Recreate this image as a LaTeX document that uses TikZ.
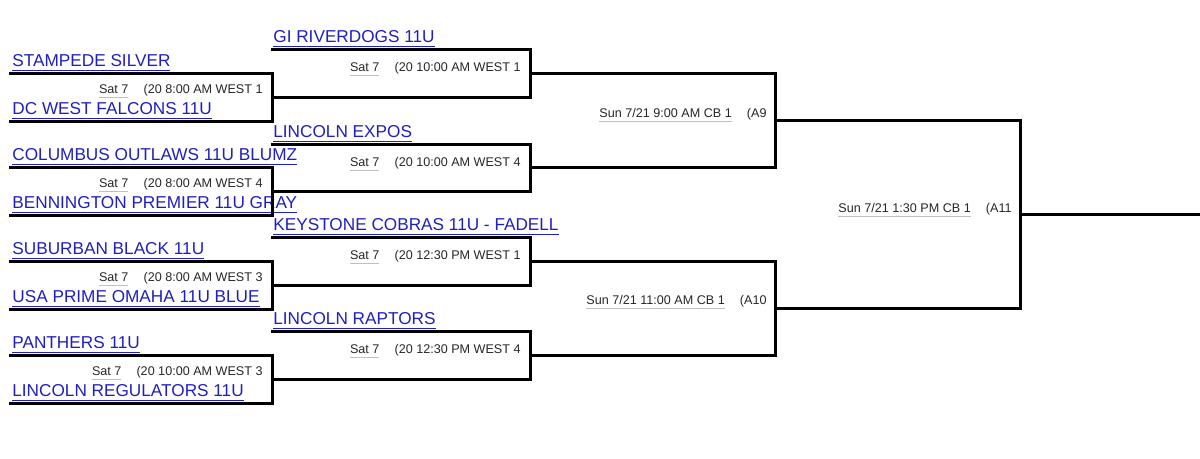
\documentclass[tikz,border=0pt]{standalone}
\usepackage{fontspec}
\setmainfont{Liberation Sans}
\definecolor{team}{HTML}{1F1FBF}
\newcommand{\gm}[2]{{\color{black!25}\underline{\color{black!85}#1}}\hspace{1.2em}{\color{black!85}(#2}}
\tikzset{
 team/.style={anchor=base west,inner sep=0pt,font=\fontsize{8.6}{9}\selectfont,text=team},
 game/.style={anchor=base east,inner sep=0pt,font=\fontsize{6.3}{7}\selectfont},
 br/.style={line width=1.5pt,line cap=rect}
}
\begin{document}
\begin{tikzpicture}[x=0.5pt,y=-0.5pt]
\useasboundingbox (0,0) rectangle (1200,459);
% round 1
\foreach \i/\t/\b/\ta/\tb/\g/\gn in {
 1/74/122/STAMPEDE SILVER/DC WEST FALCONS 11U/Sat 7/20 8:00 AM WEST 1/A1,
 2/168/216/COLUMBUS OUTLAWS 11U BLUMZ/BENNINGTON PREMIER 11U GRAY/Sat 7/20 8:00 AM WEST 4/A2,
 3/262/310/SUBURBAN BLACK 11U/USA PRIME OMAHA 11U BLUE/Sat 7/20 8:00 AM WEST 3/A3,
 4/356/404/PANTHERS 11U/LINCOLN REGULATORS 11U/Sat 7/20 10:00 AM WEST 3/A4}{
 \node[team] (ta\i) at (12,\t-7) {\underline{\ta}};
 \node[team] (tb\i) at (12,\b-7) {\underline{\tb}};
 \node[game] (g\i) at (263,\t+20) {\gm{\g}{\gn}};
 \draw[br] (10,\t) -- (272,\t) -- (272,\b) -- (10,\b);
}
% round 2
\foreach \i/\t/\b/\ta/\g/\gn in {
 5/50/98/GI RIVERDOGS 11U/Sat 7/20 10:00 AM WEST 1/A5,
 6/145/192/LINCOLN EXPOS/Sat 7/20 10:00 AM WEST 4/A6,
 7/238/286/KEYSTONE COBRAS 11U - FADELL/Sat 7/20 12:30 PM WEST 1/A7,
 8/332/380/LINCOLN RAPTORS/Sat 7/20 12:30 PM WEST 4/A8}{
 \node[team] (ta\i) at (273,\t-7) {\underline{\ta}};
 \node[game] (g\i) at (521,\t+22) {\gm{\g}{\gn}};
 \draw[br] (272,\t) -- (530,\t) -- (530,\b) -- (272,\b);
}
% round 3
\node[game] (g9) at (767,118) {\gm{Sun 7/21 9:00 AM CB 1}{A9}};
\draw[br] (530,74) -- (775,74) -- (775,168) -- (530,168);
\node[game] (g10) at (767,305) {\gm{Sun 7/21 11:00 AM CB 1}{A10}};
\draw[br] (530,262) -- (775,262) -- (775,356) -- (530,356);
% final
\node[game] (g11) at (1012,213) {\gm{Sun 7/21 1:30 PM CB 1}{A11}};
\draw[br] (775,121) -- (1020,121) -- (1020,309) -- (775,309);
\coordinate (out) at (1200,215);
\draw[br,line cap=butt] (1020,215) -- (out);
\end{tikzpicture}
\end{document}
